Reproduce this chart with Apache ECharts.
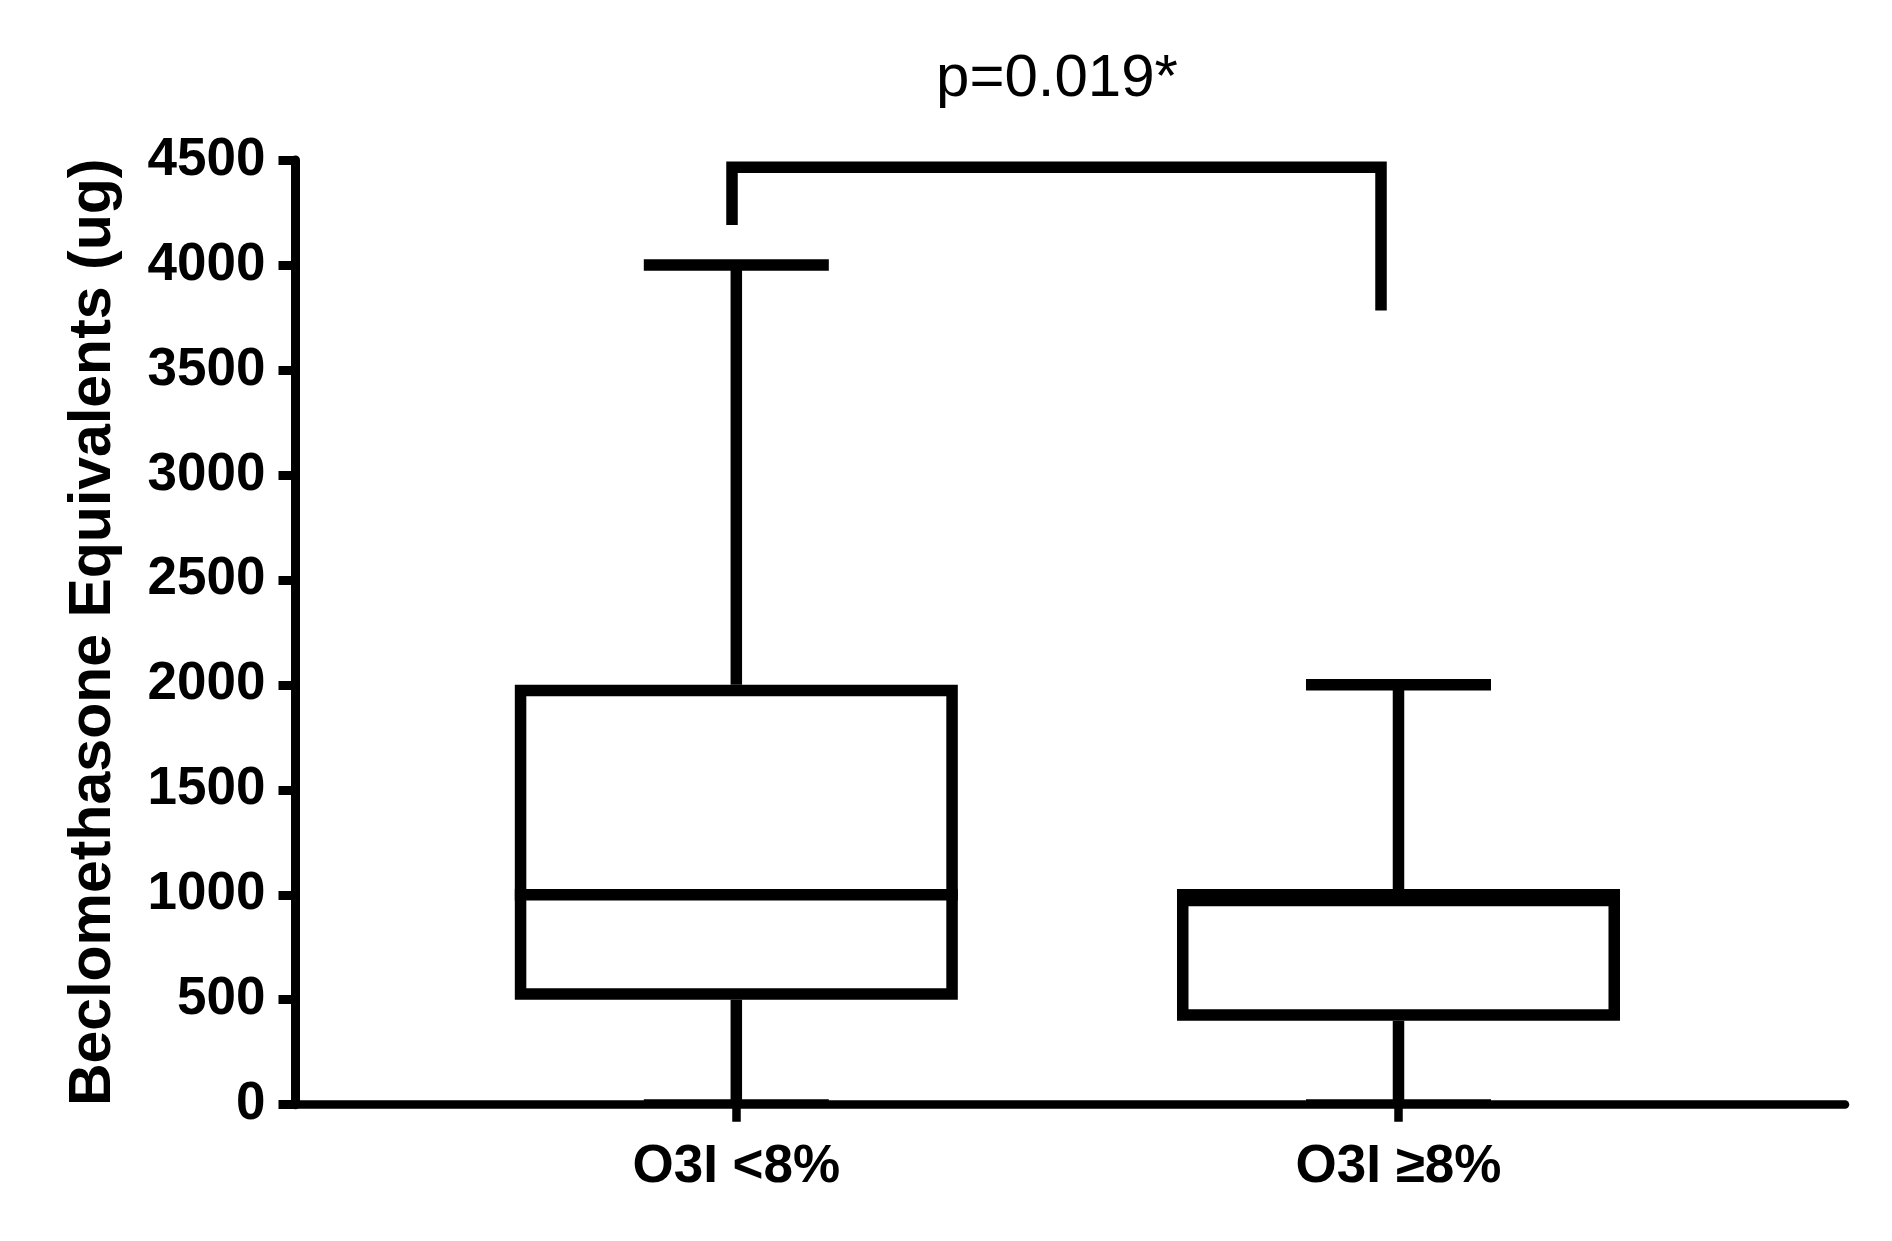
<!DOCTYPE html>
<html>
<head>
<meta charset="utf-8">
<script src="https://cdn.jsdelivr.net/npm/echarts@6/dist/echarts.min.js"></script>
<style>
  html, body { margin: 0; padding: 0; background: #fff; }
  #chart { width: 1892px; height: 1241px; }
</style>
</head>
<body>
<div id="chart"></div>
<script>
// ---- data ----
const categories = ['O3I <8%', 'O3I \u22658%'];
const minValues = [0, 0];
const q1Values = [500, 400];
const medianValues = [1000, 1000];
const q3Values = [2000, 1000];
const maxValues = [4000, 2000];
const yTicks = [0, 500, 1000, 1500, 2000, 2500, 3000, 3500, 4000, 4500];
const pValueText = 'p=0.019*';
// significance bracket path: [x (category index units), y value]
const bracketX = [-0.0065, 0.9736];
const bracketTop = 4466;
const bracketEnds = [4190, 3783];

const yAxisTitle = 'Beclomethasone Equivalents (ug)';

// ---- styles ----
const FONT = '"Liberation Sans", Arial, Helvetica, sans-serif';
const LW = 11.5;        // box line width
const BOX_W = 0.669;    // box width in category units
const CAP_W = 0.2794;   // whisker cap width in category units

const boxData = categories.map((c, i) => [i, minValues[i], q1Values[i], medianValues[i], q3Values[i], maxValues[i]]);
const bracketData = [
  [bracketX[0], bracketEnds[0]],
  [bracketX[0], bracketTop],
  [bracketX[1], bracketTop],
  [bracketX[1], bracketEnds[1]]
];

function renderBox(params, api) {
  const x = api.value(0);
  const pMin = api.coord([x, api.value(1)]);
  const pQ1 = api.coord([x, api.value(2)]);
  const pMed = api.coord([x, api.value(3)]);
  const pQ3 = api.coord([x, api.value(4)]);
  const pMax = api.coord([x, api.value(5)]);
  const cx = pMed[0];
  const bw = api.size([BOX_W, 0])[0];
  const cw = api.size([CAP_W, 0])[0];
  const ls = { stroke: '#000', lineWidth: LW, lineCap: 'butt', fill: null };
  return {
    type: 'group',
    children: [
      { type: 'line', shape: { x1: cx, y1: pQ3[1], x2: cx, y2: pMax[1] }, style: ls },
      { type: 'line', shape: { x1: cx, y1: pQ1[1], x2: cx, y2: pMin[1] }, style: ls },
      { type: 'line', shape: { x1: cx - cw / 2, y1: pMax[1], x2: cx + cw / 2, y2: pMax[1] }, style: ls },
      { type: 'line', shape: { x1: cx - cw / 2, y1: pMin[1] - 2, x2: cx + cw / 2, y2: pMin[1] - 2 }, style: { stroke: '#000', lineWidth: 7, lineCap: 'butt', fill: null } },
      { type: 'rect',
        shape: { x: cx - bw / 2 + LW / 2, y: pQ3[1] + LW / 2, width: bw - LW, height: (pQ1[1] - pQ3[1]) - LW },
        style: { stroke: '#000', lineWidth: LW, fill: '#fff', lineJoin: 'miter' } },
      { type: 'line', shape: { x1: cx - bw / 2, y1: pMed[1], x2: cx + bw / 2, y2: pMed[1] }, style: ls }
    ]
  };
}

const chart = echarts.init(document.getElementById('chart'), null, { renderer: 'canvas' });
chart.setOption({
  backgroundColor: '#ffffff',
  animation: false,
  grid: {
    left: 295.5, right: 47, top: 160, bottom: 136.3,
    containLabel: false,
    outerBoundsMode: 'none'
  },
  graphic: [{
    type: 'text',
    x: 1057, y: 79.5,
    style: {
      text: pValueText,
      font: '60px ' + FONT,
      fill: '#000',
      align: 'center',
      verticalAlign: 'middle'
    }
  }],
  xAxis: {
    type: 'value',
    min: -0.6657,
    max: 1.6743,
    splitLine: { show: false },
    axisLine: { show: true, onZero: false, lineStyle: { color: '#000', width: 8.5 } },
    axisTick: { show: true, customValues: [0, 1], length: 17, inside: false, lineStyle: { color: '#000', width: 8.5 } },
    axisLabel: {
      show: true,
      customValues: [0, 1],
      formatter: (v) => categories[Math.round(v)] || '',
      color: '#000',
      fontFamily: FONT,
      fontWeight: 'bold',
      fontSize: 53,
      margin: 36
    }
  },
  yAxis: {
    type: 'value',
    min: 0,
    max: 4500,
    interval: 500,
    splitLine: { show: false },
    axisLine: { show: true, onZero: false, lineStyle: { color: '#000', width: 9 } },
    axisTick: { show: true, length: 17, inside: false, lineStyle: { color: '#000', width: 9 } },
    axisLabel: {
      color: '#000',
      fontFamily: FONT,
      fontWeight: 'bold',
      fontSize: 53,
      margin: 30,
      formatter: (v) => String(v)
    },
    name: yAxisTitle,
    nameLocation: 'middle',
    nameRotate: 90,
    nameGap: 172,
    nameTextStyle: {
      color: '#000',
      fontFamily: FONT,
      fontWeight: 'bold',
      fontSize: 59
    }
  },
  series: [
    {
      type: 'custom',
      name: 'box',
      renderItem: renderBox,
      encode: { x: 0, y: [1, 2, 3, 4, 5] },
      data: boxData,
      clip: false,
      z: 2
    },
    {
      type: 'line',
      name: 'bracket',
      data: bracketData,
      symbol: 'none',
      lineStyle: { color: '#000', width: 11.5, join: 'miter', cap: 'butt' },
      silent: true,
      z: 3
    }
  ]
});
</script>
</body>
</html>
